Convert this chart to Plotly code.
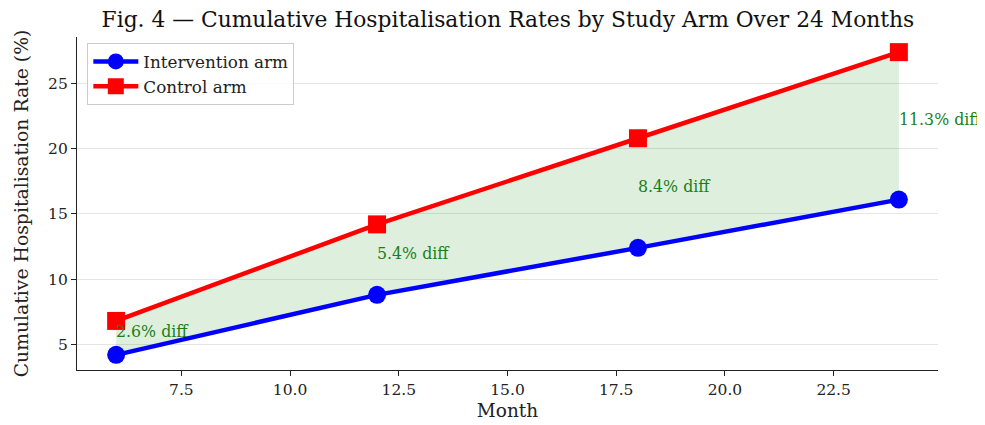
import plotly.graph_objects as go

months = [6, 12, 18, 24]
intervention = [4.2, 8.8, 12.4, 16.1]
control = [6.8, 14.2, 20.8, 27.4]
diff_labels = ["2.6% diff", "5.4% diff", "8.4% diff", "11.3% diff"]

FONT = "DejaVu Serif"

fig = go.Figure()
# shaded band between arms
fig.add_trace(go.Scatter(x=months, y=intervention, mode="lines", line=dict(width=0),
                         showlegend=False, hoverinfo="skip"))
fig.add_trace(go.Scatter(x=months, y=control, mode="lines", line=dict(width=0),
                         fill="tonexty", fillcolor="rgba(0,128,0,0.13)",
                         showlegend=False, hoverinfo="skip"))
fig.add_trace(go.Scatter(x=months, y=intervention, mode="lines+markers", name="Intervention arm",
                         line=dict(color="#0000ff", width=4.5),
                         marker=dict(symbol="circle", size=18, color="#0000ff")))
fig.add_trace(go.Scatter(x=months, y=control, mode="lines+markers", name="Control arm",
                         line=dict(color="#ff0000", width=4.5),
                         marker=dict(symbol="square", size=18, color="#ff0000")))

for m, a, b, t in zip(months, intervention, control, diff_labels):
    fig.add_annotation(x=m, y=(a + b) / 2, text=t, showarrow=False,
                       xanchor="left", yanchor="bottom", yshift=-5, xshift=-2,
                       font=dict(family=FONT, size=15.8, color="#1a7f1a"))

fig.update_layout(
    width=977, height=417,
    margin=dict(l=69, r=47, t=29, b=55),
    paper_bgcolor="white", plot_bgcolor="white",
    font=dict(family=FONT, size=15.5, color="#222222"),
    title=dict(text="Fig. 4 — Cumulative Hospitalisation Rates by Study Arm Over 24 Months",
               x=0.5117, xanchor="center", y=0.972, yanchor="middle",
               font=dict(family=FONT, size=21.8, color="#111111")),
    legend=dict(x=0.012, y=0.982, xanchor="left", yanchor="top", traceorder="normal",
                bgcolor="rgba(255,255,255,0.8)", bordercolor="#cccccc", borderwidth=1,
                font=dict(family=FONT, size=16.8, color="#222222"),
                itemwidth=45, tracegroupgap=0),
    showlegend=True,
)
fig.update_xaxes(range=[5.1, 24.9], tickvals=[7.5, 10, 12.5, 15, 17.5, 20, 22.5],
                 ticktext=["7.5", "10.0", "12.5", "15.0", "17.5", "20.0", "22.5"],
                 automargin=False,
                 showgrid=False, zeroline=False, showline=True, linecolor="#222222", linewidth=1.3,
                 ticks="outside", ticklen=5, tickcolor="#222222",
                 title=dict(text="Month", font=dict(family=FONT, size=18.5), standoff=6),
                 tickfont=dict(family=FONT, size=15.5))
fig.update_yaxes(range=[3.04, 28.56], tickvals=[5, 10, 15, 20, 25],
                 automargin=False,
                 showgrid=True, gridcolor="rgba(0,0,0,0.1)", gridwidth=1, zeroline=False,
                 showline=True, linecolor="#222222", linewidth=1.3,
                 ticks="outside", ticklen=5, tickcolor="#222222",
                 title=dict(text="Cumulative Hospitalisation Rate (%)", font=dict(family=FONT, size=18.8), standoff=14),
                 tickfont=dict(family=FONT, size=15.5))

fig.write_html("out.html")
